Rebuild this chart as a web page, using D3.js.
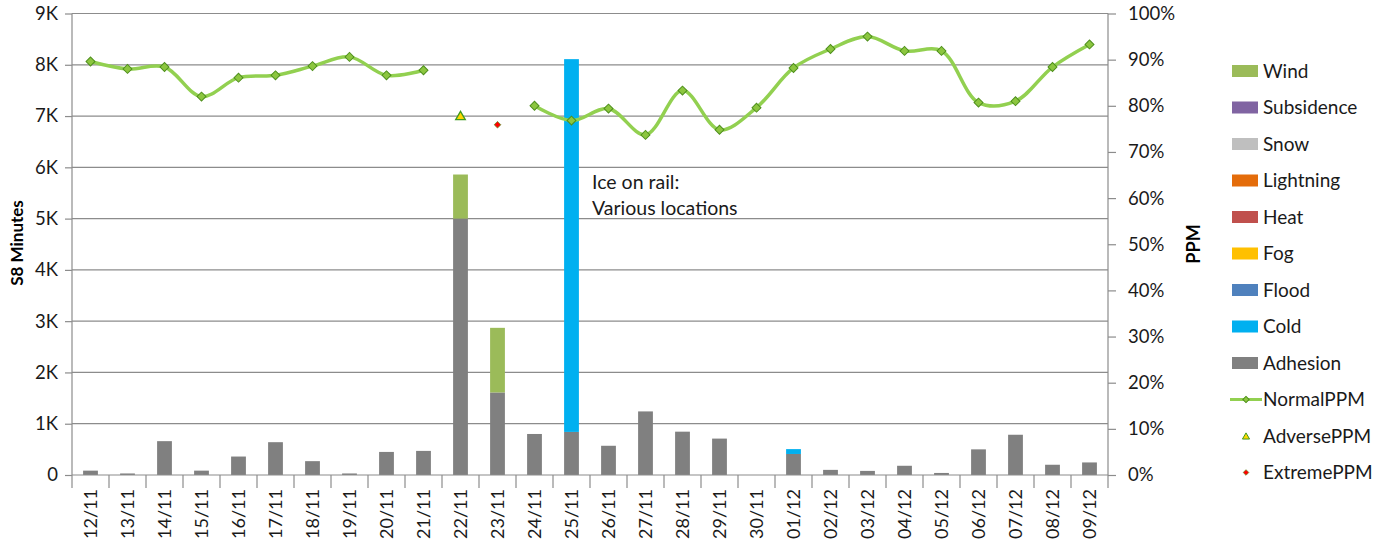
<!DOCTYPE html>
<html>
<head>
<meta charset="utf-8">
<script src="https://cdn.jsdelivr.net/npm/d3@7"></script>
<style>
  html, body { margin: 0; padding: 0; background: #fff; }
  svg { display: block; font-family: Lato, "Open Sans", sans-serif; }
</style>
</head>
<body>
<svg id="chart" width="1382" height="545"></svg>
<script>
const days = ["12/11","13/11","14/11","15/11","16/11","17/11","18/11","19/11","20/11","21/11","22/11","23/11","24/11","25/11","26/11","27/11","28/11","29/11","30/11","01/12","02/12","03/12","04/12","05/12","06/12","07/12","08/12","09/12"];

const adhesion   = [85,30,660,85,360,640,270,30,450,470,5000,1610,800,840,570,1240,845,710,0,410,100,80,180,40,500,785,200,245];
const cold       = [0,0,0,0,0,0,0,0,0,0,0,0,0,7270,0,0,0,0,0,95,0,0,0,0,0,0,0,0];
const flood      = new Array(28).fill(0);
const fog        = new Array(28).fill(0);
const heat       = new Array(28).fill(0);
const lightning  = new Array(28).fill(0);
const snow       = new Array(28).fill(0);
const subsidence = new Array(28).fill(0);
const wind       = [0,0,0,0,0,0,0,0,0,0,860,1260,0,0,0,0,0,0,0,0,0,0,0,0,0,0,0,0];

const normalPPM  = [0.896,0.880,0.884,0.820,0.861,0.866,0.886,0.906,0.866,0.877,null,null,0.800,0.768,0.794,0.737,0.833,0.748,0.796,0.882,0.923,0.950,0.919,0.919,0.807,0.810,0.884,0.933];
const adversePPM = [null,null,null,null,null,null,null,null,null,null,0.776,null,null,null,null,null,null,null,null,null,null,null,null,null,null,null,null,null];
const extremePPM = [null,null,null,null,null,null,null,null,null,null,null,0.759,null,null,null,null,null,null,null,null,null,null,null,null,null,null,null,null];

const leftTicks  = [0,1000,2000,3000,4000,5000,6000,7000,8000,9000];
const leftLabels = ["0","1K","2K","3K","4K","5K","6K","7K","8K","9K"];
const rightTicks = [0,0.1,0.2,0.3,0.4,0.5,0.6,0.7,0.8,0.9,1.0];

const seriesNames  = ["Adhesion","Cold","Flood","Fog","Heat","Lightning","Snow","Subsidence","Wind"];
const seriesValues = [adhesion,cold,flood,fog,heat,lightning,snow,subsidence,wind];
const seriesColors = ["#808080","#00B0F0","#4F81BD","#FFC000","#C0504D","#E46C0A","#BFBFBF","#8064A2","#9BBB59"];

const svg = d3.select("#chart");
const X0 = 72, X1 = 1108, Y0 = 475, Y1 = 13.5;

const x = d3.scaleBand().domain(days).range([X0, X1]).paddingInner(0.6).paddingOuter(0.3);
const yL = d3.scaleLinear().domain([0, 9000]).range([Y0, Y1]);
const yR = d3.scaleLinear().domain([0, 1]).range([Y0, Y1]);
const step = x.step();

// gridlines
svg.append("g").selectAll("line").data(leftTicks.filter(d => d > 0)).join("line")
  .attr("x1", X0).attr("x2", X1).attr("y1", d => yL(d)).attr("y2", d => yL(d))
  .attr("stroke", "#8c8c8c").attr("stroke-width", 1.2);

// stacked bars
const table = days.map((d, i) => {
  const o = { day: d };
  seriesNames.forEach((s, j) => o[s] = seriesValues[j][i]);
  return o;
});
const stack = d3.stack().keys(seriesNames)(table);
svg.append("g").selectAll("g").data(stack).join("g")
  .attr("fill", (d, i) => seriesColors[i])
  .selectAll("rect").data(d => d.filter(p => p[1] - p[0] > 0)).join("rect")
  .attr("x", d => x(d.data.day)).attr("width", x.bandwidth())
  .attr("y", d => yL(d[1])).attr("height", d => yL(d[0]) - yL(d[1]));

// left axis
const gL = svg.append("g").attr("transform", `translate(${X0},0)`)
  .call(d3.axisLeft(yL).tickValues(leftTicks).tickFormat((d, i) => leftLabels[i]).tickSize(7).tickPadding(7));
gL.select(".domain").attr("stroke", "#8c8c8c").attr("stroke-width", 1.2).attr("d", `M0,${Y0}V${Y1}`);
gL.selectAll(".tick line").attr("stroke", "#8c8c8c").attr("stroke-width", 1.2);
gL.selectAll(".tick text").attr("font-size", 18.5).attr("fill", "#1a1a1a").attr("font-family", "Lato");

// right axis
const gR = svg.append("g").attr("transform", `translate(${X1},0)`)
  .call(d3.axisRight(yR).tickValues(rightTicks).tickFormat(d3.format(".0%")).tickSize(8).tickPadding(12));
gR.select(".domain").attr("stroke", "#8c8c8c").attr("stroke-width", 1.2).attr("d", `M0,${Y0}V${Y1}`);
gR.selectAll(".tick line").attr("stroke", "#8c8c8c").attr("stroke-width", 1.2);
gR.selectAll(".tick text").attr("font-size", 18.5).attr("fill", "#1a1a1a").attr("font-family", "Lato");

// bottom axis
svg.append("line").attr("x1", X0).attr("x2", X1).attr("y1", Y0).attr("y2", Y0)
  .attr("stroke", "#8c8c8c").attr("stroke-width", 1.2);
const bounds = days.map(d => x(d) + x.bandwidth() / 2 - step / 2).concat([x(days[days.length - 1]) + x.bandwidth() / 2 + step / 2]);
svg.append("g").selectAll("line").data(bounds).join("line")
  .attr("x1", d => d).attr("x2", d => d).attr("y1", Y0).attr("y2", Y0 + 13)
  .attr("stroke", "#8c8c8c").attr("stroke-width", 1.2);
svg.append("g").selectAll("text").data(days).join("text")
  .attr("transform", d => `translate(${x(d) + x.bandwidth() / 2 + 6},${Y0 + 14}) rotate(-90)`)
  .attr("text-anchor", "end").attr("font-size", 18).attr("fill", "#1a1a1a")
  .text(d => d);

// axis titles
svg.append("text").attr("transform", "translate(23,243) rotate(-90)").attr("text-anchor", "middle")
  .attr("font-size", 17).attr("font-weight", "bold").attr("fill", "#000").text("S8 Minutes");
svg.append("text").attr("transform", "translate(1200,244) rotate(-90)").attr("text-anchor", "middle")
  .attr("font-size", 18).attr("font-weight", "bold").attr("fill", "#000").text("PPM");

// annotation
svg.append("text").attr("x", 592).attr("y", 189).attr("font-size", 19.5).attr("fill", "#1a1a1a").text("Ice on rail:");
svg.append("text").attr("x", 592).attr("y", 215).attr("font-size", 19.5).attr("fill", "#1a1a1a").text("Various locations");

// PPM line
const cx = (d, i) => x(days[i]) + x.bandwidth() / 2;
const line = d3.line().defined(d => d !== null).x(cx).y(d => yR(d)).curve(d3.curveCatmullRom.alpha(0.5));
svg.append("path").datum(normalPPM).attr("d", line).attr("fill", "none")
  .attr("stroke", "#92D050").attr("stroke-width", 3.5);

const rhombus = d3.symbol().type(d3.symbolSquare);
svg.append("g").selectAll("path").data(normalPPM.map((v, i) => ({ v, i })).filter(d => d.v !== null)).join("path")
  .attr("transform", d => `translate(${cx(null, d.i)},${yR(d.v)}) rotate(45)`)
  .attr("d", rhombus.size(40)).attr("fill", "#8CC63F").attr("stroke", "#4E8F1C").attr("stroke-width", 1);

svg.append("g").selectAll("path").data(adversePPM.map((v, i) => ({ v, i })).filter(d => d.v !== null)).join("path")
  .attr("transform", d => `translate(${cx(null, d.i)},${yR(d.v)})`)
  .attr("d", d3.symbol().type(d3.symbolTriangle).size(40)).attr("fill", "#FFD700").attr("stroke", "#3E9A1E").attr("stroke-width", 1.3);

svg.append("g").selectAll("path").data(extremePPM.map((v, i) => ({ v, i })).filter(d => d.v !== null)).join("path")
  .attr("transform", d => `translate(${cx(null, d.i)},${yR(d.v)}) rotate(45)`)
  .attr("d", d3.symbol().type(d3.symbolSquare).size(22)).attr("fill", "#FF0000").attr("stroke", "#4E8F1C").attr("stroke-width", 0.7);

// legend
const legendItems = [
  { name: "Wind", color: "#9BBB59", kind: "rect" },
  { name: "Subsidence", color: "#8064A2", kind: "rect" },
  { name: "Snow", color: "#BFBFBF", kind: "rect" },
  { name: "Lightning", color: "#E46C0A", kind: "rect" },
  { name: "Heat", color: "#C0504D", kind: "rect" },
  { name: "Fog", color: "#FFC000", kind: "rect" },
  { name: "Flood", color: "#4F81BD", kind: "rect" },
  { name: "Cold", color: "#00B0F0", kind: "rect" },
  { name: "Adhesion", color: "#808080", kind: "rect" },
  { name: "NormalPPM", kind: "line" },
  { name: "AdversePPM", kind: "tri" },
  { name: "ExtremePPM", kind: "dia" }
];
const lg = svg.append("g").selectAll("g").data(legendItems).join("g")
  .attr("transform", (d, i) => `translate(1232,${71 + i * 36.5})`);
lg.filter(d => d.kind === "rect").append("rect").attr("x", 0).attr("y", -6).attr("width", 26).attr("height", 12).attr("fill", d => d.color);
lg.filter(d => d.kind === "line").append("line").attr("x1", -2).attr("x2", 30).attr("y1", 0).attr("y2", 0).attr("stroke", "#92D050").attr("stroke-width", 3);
lg.filter(d => d.kind === "line").append("path").attr("transform", "translate(14,0) rotate(45)").attr("d", d3.symbol().type(d3.symbolSquare).size(20)).attr("fill", "#8CC63F").attr("stroke", "#4E8F1C");
lg.filter(d => d.kind === "tri").append("path").attr("transform", "translate(14,1)").attr("d", d3.symbol().type(d3.symbolTriangle).size(22)).attr("fill", "#FFD700").attr("stroke", "#3E9A1E");
lg.filter(d => d.kind === "dia").append("path").attr("transform", "translate(14,0) rotate(45)").attr("d", d3.symbol().type(d3.symbolSquare).size(16)).attr("fill", "#FF0000").attr("stroke", "#4E8F1C").attr("stroke-width", 0.6);
lg.append("text").attr("x", 31).attr("y", 0).attr("dy", "0.35em").attr("font-size", 19).attr("fill", "#1a1a1a").text(d => d.name);
</script>
</body>
</html>
